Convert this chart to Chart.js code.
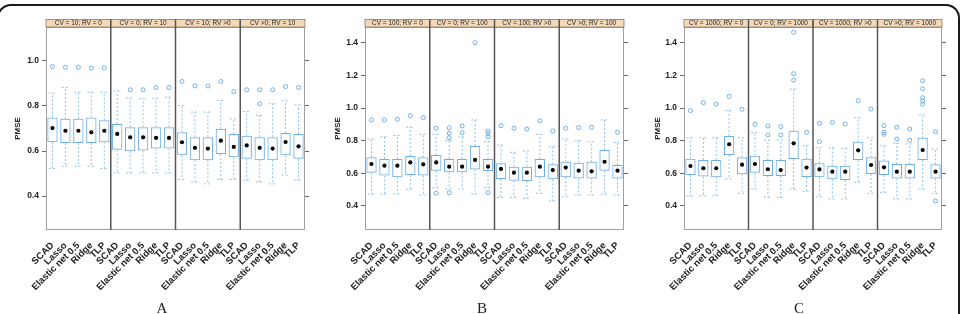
<!DOCTYPE html>
<html>
<head>
<meta charset="utf-8">
<script src="https://cdn.jsdelivr.net/npm/chart.js@4.4.0/dist/chart.umd.min.js"></script>
<style>
	body { margin: 0; background: #fff; width: 963px; height: 314px; overflow: hidden; position: relative; }
	canvas { position: absolute; top: 0; }
	.letter { position: absolute; top: 301px; font: 15px/15px "Liberation Serif", "DejaVu Serif", serif; color: #222; transform: translateX(-50%); }
	.frame { position: absolute; left: -3px; top: 4px; width: 959px; height: 400px; border: 2px solid #1a1a1a; border-radius: 14px; }
</style>
</head>
<body>
<canvas id="chartA" width="320" height="314" style="left:0px"></canvas>
<canvas id="chartB" width="320" height="314" style="left:320px"></canvas>
<canvas id="chartC" width="320" height="314" style="left:640px"></canvas>
<div class="letter" style="left:162px">A</div>
<div class="letter" style="left:482px">B</div>
<div class="letter" style="left:799px">C</div>
<div class="frame"></div>

<script>
// 공통 카테고리 (패널마다 4개 조건 x 5개 방법)
const methods = ['SCAD', 'Lasso', 'Elastic net 0.5', 'Ridge', 'TLP'];

const stripsA = ['CV = 10; RV = 0', 'CV = 0; RV = 10', 'CV = 10; RV >0', 'CV >0; RV = 10'];
const stripsB = ['CV = 100; RV = 0', 'CV = 0; RV = 100', 'CV = 100; RV >0', 'CV >0; RV = 100'];
const stripsC = ['CV = 1000; RV = 0', 'CV = 0; RV = 1000', 'CV = 1000; RV >0', 'CV >0; RV = 1000'];

// y축 눈금
const yTicksA = [0.4, 0.6, 0.8, 1.0];
const yTicksBC = [0.4, 0.6, 0.8, 1.0, 1.2, 1.4];

// 패널 A : 하단수염, Q1, 중앙값, Q3, 상단수염, 이상치
const loA  = [0.522, 0.532, 0.532, 0.532, 0.522, 0.503, 0.503, 0.503, 0.503, 0.503, 0.473, 0.463, 0.454, 0.473, 0.473, 0.470, 0.463, 0.454, 0.493, 0.470];
const q1A  = [0.639, 0.636, 0.636, 0.636, 0.639, 0.606, 0.599, 0.602, 0.611, 0.611, 0.581, 0.559, 0.559, 0.587, 0.572, 0.566, 0.559, 0.559, 0.581, 0.566];
const medA = [0.702, 0.690, 0.690, 0.683, 0.690, 0.676, 0.661, 0.661, 0.658, 0.658, 0.639, 0.614, 0.611, 0.646, 0.618, 0.625, 0.614, 0.611, 0.640, 0.621];
const q3A  = [0.749, 0.743, 0.743, 0.749, 0.737, 0.720, 0.705, 0.705, 0.705, 0.705, 0.683, 0.661, 0.661, 0.699, 0.676, 0.668, 0.661, 0.661, 0.680, 0.676];
const hiA  = [0.857, 0.882, 0.861, 0.861, 0.861, 0.867, 0.835, 0.832, 0.835, 0.839, 0.802, 0.773, 0.773, 0.824, 0.743, 0.776, 0.758, 0.810, 0.823, 0.805];
const outA = [[0.975], [0.972], [0.972], [0.968], [0.970], [], [0.872], [0.872], [0.882], [0.882],
	[0.909], [0.889], [0.889], [0.909], [0.864], [0.872], [0.872, 0.810], [0.872], [0.886], [0.882]];

// 패널 B
const loB  = [0.473, 0.473, 0.473, 0.502, 0.467, 0.512, 0.504, 0.504, 0.473, 0.512, 0.453, 0.453, 0.447, 0.478, 0.431, 0.457, 0.467, 0.467, 0.473, 0.467];
const q1B  = [0.604, 0.586, 0.576, 0.590, 0.586, 0.616, 0.606, 0.606, 0.624, 0.614, 0.565, 0.555, 0.553, 0.576, 0.563, 0.576, 0.569, 0.569, 0.616, 0.569];
const medB = [0.657, 0.647, 0.647, 0.667, 0.655, 0.667, 0.641, 0.641, 0.682, 0.641, 0.627, 0.604, 0.604, 0.641, 0.620, 0.635, 0.616, 0.612, 0.671, 0.616];
const q3B  = [0.698, 0.688, 0.688, 0.706, 0.698, 0.712, 0.688, 0.688, 0.767, 0.688, 0.661, 0.641, 0.641, 0.688, 0.655, 0.671, 0.665, 0.671, 0.743, 0.651];
const hiB  = [0.810, 0.824, 0.831, 0.882, 0.839, 0.839, 0.800, 0.824, 0.927, 0.794, 0.773, 0.729, 0.737, 0.839, 0.763, 0.810, 0.800, 0.794, 0.927, 0.788];
const outB = [[0.927], [0.927], [0.931], [0.953], [0.941], [0.876, 0.478], [0.879, 0.845, 0.818, 0.482], [0.890, 0.849], [1.40], [0.859, 0.843, 0.824, 0.482],
	[0.892], [0.876], [0.871], [0.922], [0.859], [0.876], [0.880], [0.882], [], [0.851]];

// 패널 C
const loC  = [0.461, 0.463, 0.463, 0.565, 0.478, 0.504, 0.453, 0.453, 0.504, 0.488, 0.457, 0.443, 0.443, 0.545, 0.478, 0.484, 0.443, 0.443, 0.504, 0.478];
const q1C  = [0.590, 0.580, 0.576, 0.712, 0.594, 0.604, 0.584, 0.584, 0.688, 0.578, 0.576, 0.563, 0.559, 0.682, 0.596, 0.590, 0.569, 0.569, 0.682, 0.569];
const medC = [0.645, 0.631, 0.631, 0.778, 0.653, 0.657, 0.625, 0.620, 0.784, 0.635, 0.624, 0.610, 0.610, 0.741, 0.651, 0.637, 0.610, 0.610, 0.743, 0.610];
const q3C  = [0.690, 0.682, 0.682, 0.829, 0.698, 0.708, 0.682, 0.682, 0.861, 0.690, 0.661, 0.647, 0.647, 0.794, 0.698, 0.678, 0.657, 0.657, 0.818, 0.655];
const hiC  = [0.818, 0.818, 0.818, 0.984, 0.818, 0.849, 0.804, 0.804, 1.116, 0.769, 0.757, 0.757, 0.753, 0.941, 0.818, 0.769, 0.784, 0.780, 0.957, 0.747];
const outC = [[0.984], [1.033], [1.024], [1.071], [0.992], [0.900], [0.890, 0.835], [0.886, 0.835], [1.463, 1.210, 1.170], [0.851],
	[0.906, 0.794], [0.912], [0.902], [1.045], [0.994], [0.892, 0.851, 0.839], [0.882, 0.810], [0.871, 0.802], [1.167, 1.118, 1.063, 1.043, 1.023], [0.855, 0.431]];

const boxColor = '#6eaee6';
const umbColor = '#8dc0ec';
const fontFam = '"Liberation Sans", Arial, sans-serif';

// strip(조건 라벨), 패널 구분선, 테두리
const latticePlugin = {
	id: 'lattice',
	afterDraw(chart) {
		const ctx = chart.ctx;
		const a = chart.chartArea;
		const x = chart.scales.x;
		const strips = chart.options.plugins.lattice.strips;
		const n = methods.length;
		const sh = 7.5;

		ctx.save();
		ctx.strokeStyle = '#a0a0a0';
		ctx.lineWidth = 1;
		ctx.strokeRect(a.left + 0.5, a.top + 0.5, a.width - 1, a.height - 1);

		strips.forEach((s, k) => {
			const x0 = x.getPixelForValue(k * n + 0.5);
			const x1 = x.getPixelForValue((k + 1) * n + 0.5);
			ctx.fillStyle = '#f4d9b8';
			ctx.fillRect(x0, a.top - sh, x1 - x0, sh);
			ctx.strokeStyle = '#8c7c6c';
			ctx.lineWidth = 0.8;
			ctx.strokeRect(x0, a.top - sh, x1 - x0, sh);
			ctx.fillStyle = '#222';
			ctx.font = '6.5px ' + fontFam;
			ctx.textAlign = 'center';
			ctx.textBaseline = 'middle';
			ctx.fillText(s, (x0 + x1) / 2, a.top - sh / 2 + 0.3);
		});

		ctx.strokeStyle = '#555';
		ctx.lineWidth = 1.5;
		for (let k = 1; k < strips.length; k++) {
			const xx = x.getPixelForValue(k * n + 0.5);
			ctx.beginPath();
			ctx.moveTo(xx, a.top - sh);
			ctx.lineTo(xx, a.bottom);
			ctx.stroke();
		}
		ctx.restore();
	}
};

function drawPanel(id, strips, yTicks, yMin, yMax, lo, q1, med, q3, hi, out, leftW, rightW) {
	const capW = 0.3;

	// 수염(점선) + 끝선
	let whisk = [];
	for (let i = 0; i < lo.length; i++) {
		const x = i + 1;
		whisk.push({x: x, y: q3[i]}, {x: x, y: hi[i]}, {x: x, y: null});
		whisk.push({x: x, y: q1[i]}, {x: x, y: lo[i]}, {x: x, y: null});
		whisk.push({x: x - capW, y: hi[i]}, {x: x + capW, y: hi[i]}, {x: x, y: null});
		whisk.push({x: x - capW, y: lo[i]}, {x: x + capW, y: lo[i]}, {x: x, y: null});
	}

	let outPts = [];
	out.forEach((arr, i) => arr.forEach(v => outPts.push({x: i + 1, y: v})));

	const setTicks = s => { s.ticks = yTicks.map(v => ({value: v})); };

	new Chart(document.getElementById(id), {
		type: 'bar',
		data: {
			datasets: [
				{
					type: 'line', data: whisk, order: 3,
					borderColor: umbColor, borderWidth: 1, borderDash: [2, 2],
					pointRadius: 0, spanGaps: false, tension: 0
				},
				{
					type: 'bar', order: 2,
					data: q1.map((v, i) => ({x: i + 1, y: [v, q3[i]]})),
					backgroundColor: 'rgba(0,0,0,0)', borderColor: boxColor, borderWidth: 1,
					borderSkipped: false, barPercentage: 0.8, categoryPercentage: 1
				},
				{
					type: 'line', data: outPts, order: 1, showLine: false,
					pointRadius: 2, pointBorderColor: boxColor, pointBackgroundColor: 'rgba(0,0,0,0)', pointBorderWidth: 1
				},
				{
					type: 'line', order: 0, showLine: false,
					data: med.map((v, i) => ({x: i + 1, y: v})),
					pointRadius: 2.1, pointBackgroundColor: '#000', pointBorderWidth: 0
				}
			]
		},
		options: {
			responsive: false,
			animation: false,
			layout: {padding: {top: 27, left: 0, right: 0, bottom: 0}},
			plugins: {
				legend: {display: false},
				tooltip: {enabled: false},
				lattice: {strips: strips}
			},
			scales: {
				x: {
					type: 'linear', min: 0.5, max: lo.length + 0.5, offset: false,
					afterBuildTicks: s => { s.ticks = lo.map((v, i) => ({value: i + 1})); },
					afterFit: s => { s.height = 84; },
					grid: {display: false},
					border: {display: false},
					ticks: {
						autoSkip: false, minRotation: 45, maxRotation: 45, padding: 2,
						color: '#222', font: {family: fontFam, size: 9.5, weight: 'bold'},
						callback: v => methods[(Math.round(v) - 1) % methods.length]
					}
				},
				y: {
					position: 'left', min: yMin, max: yMax,
					afterBuildTicks: setTicks,
					afterFit: s => { s.width = leftW; },
					grid: {drawOnChartArea: false, tickLength: 4, color: '#666'},
					border: {display: false},
					ticks: {
						padding: 3, color: '#222', font: {family: fontFam, size: 8.5, weight: 'bold'},
						callback: v => Number(v).toFixed(1)
					},
					title: {
						display: true, text: 'PMSE', color: '#222',
						font: {family: fontFam, size: 8, weight: 'bold'},
						padding: {top: 13, bottom: 0}
					}
				},
				y2: {
					position: 'right', min: yMin, max: yMax,
					afterBuildTicks: setTicks,
					afterFit: s => { s.width = rightW; },
					grid: {drawOnChartArea: false, tickLength: 4, color: '#666'},
					border: {display: false},
					ticks: {callback: () => ''}
				}
			}
		},
		plugins: [latticePlugin]
	});
}

drawPanel('chartA', stripsA, yTicksA, 0.249, 1.151, loA, q1A, medA, q3A, hiA, outA, 46, 15);
drawPanel('chartB', stripsB, yTicksBC, 0.253, 1.496, loB, q1B, medB, q3B, hiB, outB, 45, 16);
drawPanel('chartC', stripsC, yTicksBC, 0.253, 1.496, loC, q1C, medC, q3C, hiC, outC, 44, 18);
</script>
</body>
</html>
